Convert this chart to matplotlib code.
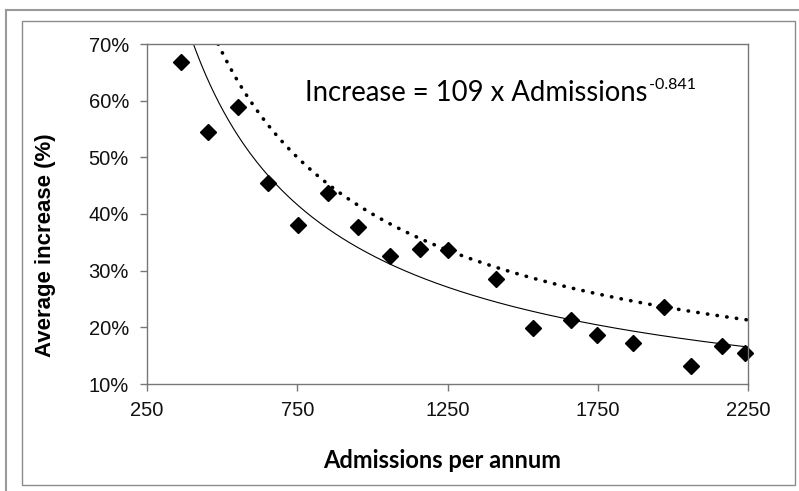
import numpy as np
import matplotlib
matplotlib.use("Agg")
import matplotlib.pyplot as plt
from matplotlib.ticker import FuncFormatter
from matplotlib.lines import Line2D
from matplotlib.patches import Rectangle

plt.rcParams['font.family'] = ['Liberation Sans', 'DejaVu Sans']

# data
admissions = [363, 454, 554, 651, 751, 851, 951, 1058, 1158, 1250,
              1411, 1535, 1660, 1749, 1868, 1970, 2060, 2165, 2239]
increase = [0.668, 0.545, 0.589, 0.454, 0.380, 0.437, 0.377, 0.326, 0.338, 0.337,
            0.286, 0.199, 0.213, 0.186, 0.173, 0.235, 0.131, 0.167, 0.154]

# fitted power law (from the annotation) and the upper dotted curve
fit_coef, fit_exp = 109, -0.841
upper_coef, upper_exp = 85.7, -0.777

W, H = 799, 491
fig = plt.figure(figsize=(W / 100, H / 100), dpi=100)

# outer frames
fig.add_artist(Line2D([6 / W, 6 / W], [0, 1 - 10 / H], color="#9a9a9a", lw=1.5))
fig.add_artist(Line2D([6 / W, 1], [1 - 10 / H, 1 - 10 / H], color="#9a9a9a", lw=1.5))
fig.add_artist(Rectangle((22 / W, 1 - 485 / H), (795 - 22) / W, (485 - 21) / H,
                         fill=False, edgecolor="#8c8c8c", lw=1.0))

ax = fig.add_axes([147 / W, 1 - 384 / H, (748 - 147) / W, (384 - 44) / H])

xs = np.linspace(250, 2250, 400)
ax.plot(xs, fit_coef * xs ** fit_exp, color="black", lw=0.8)
ax.plot(xs, upper_coef * xs ** upper_exp, color="black", lw=2.6,
        linestyle=(0, (0.1, 2.6)), dash_capstyle="round")
ax.plot(admissions, increase, linestyle="none", marker="D", markersize=8.5,
        color="black", clip_on=False)

ax.set_xlim(250, 2250)
ax.set_ylim(0.10, 0.70)
ax.set_xticks([250, 750, 1250, 1750, 2250])
ax.set_yticks([0.1, 0.2, 0.3, 0.4, 0.5, 0.6, 0.7])
ax.yaxis.set_major_formatter(FuncFormatter(lambda v, p: "%d%%" % round(v * 100)))

for s in ax.spines.values():
    s.set_color("#777777")
    s.set_linewidth(1.0)
ax.tick_params(axis="both", direction="out", length=5, width=1, color="#777777",
               labelsize=14.5, labelcolor="#111111")
ax.tick_params(axis="x", pad=7)
ax.tick_params(axis="y", pad=8)

fig.text(45.5 / W, 1 - 357 / H, "Average increase (%)", rotation=90,
         rotation_mode="anchor", ha="left", va="center",
         fontsize=16, fontweight="bold")
fig.text(442 / W, 1 - 460 / H, "Admissions per annum", ha="center", va="center",
         fontsize=17, fontweight="bold", fontfamily="Lato")

# equation with a plain hyphen in the exponent
eq = fig.text(305 / W, 1 - 101 / H, "Increase = 109 x Admissions", ha="left",
              va="baseline", fontsize=19.8, fontfamily="Lato")
fig.canvas.draw()
bb = eq.get_window_extent()
fig.text(bb.x1 / W + 1 / W, 1 - 89 / H, "-0.841", ha="left", va="baseline",
         fontsize=11.5, fontfamily="Lato")

fig.savefig("out.png", dpi=100)
